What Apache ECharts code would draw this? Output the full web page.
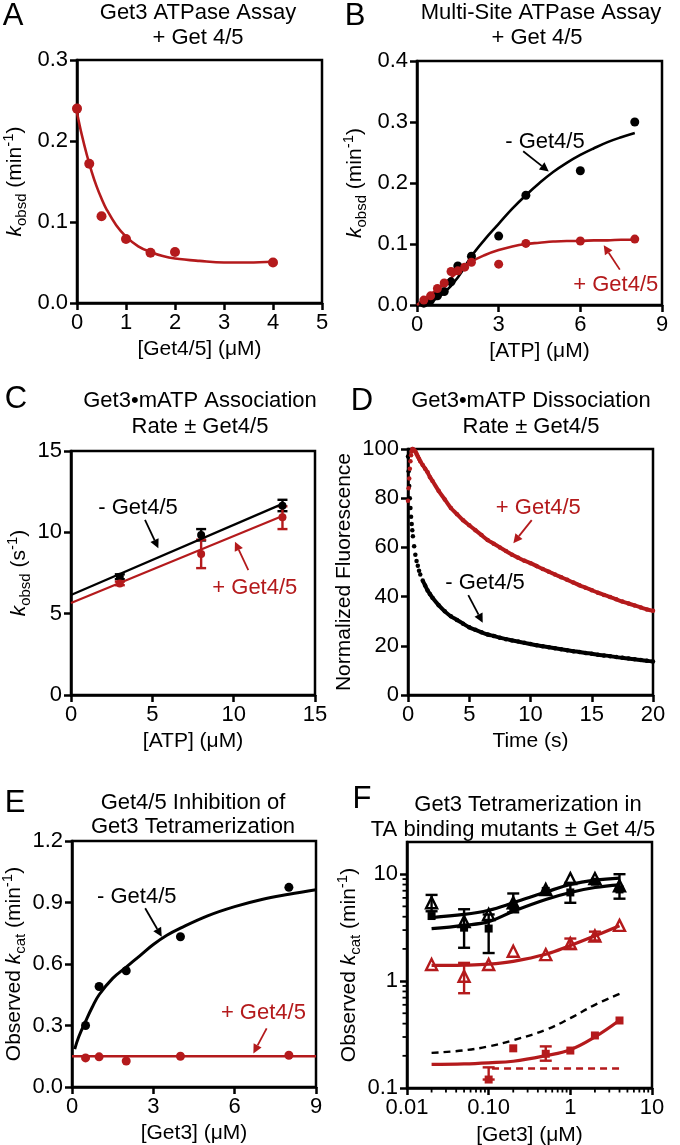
<!DOCTYPE html>
<html><head><meta charset="utf-8">
<script src="https://cdn.jsdelivr.net/npm/echarts@6/dist/echarts.min.js"></script>
<style>html,body{margin:0;padding:0;background:#fff}#c{width:680px;height:1145px}</style>
</head><body><div id="c"></div>
<script>
// ---------- Panel A ----------
const aX = [0, 0.25, 0.5, 1, 1.5, 2, 4];
const aY = [0.240, 0.172, 0.107, 0.079, 0.062, 0.063, 0.050];
const aFitX = [0, 0.1, 0.2, 0.3, 0.4, 0.5, 0.6, 0.8, 1.0, 1.25, 1.5, 1.75, 2.0, 2.5, 3.0, 3.5, 4.0];
const aFitY = [0.235, 0.207, 0.183, 0.162, 0.144, 0.129, 0.116, 0.096, 0.082, 0.070, 0.063, 0.058, 0.055, 0.052, 0.050, 0.050, 0.051];
// ---------- Panel B ----------
const bMinusX = [0.25, 0.5, 0.75, 1, 1.25, 1.5, 2, 3, 4, 6, 8];
const bMinusY = [0.003, 0.008, 0.015, 0.022, 0.038, 0.064, 0.080, 0.113, 0.180, 0.220, 0.300];
const bPlusX = [0.25, 0.5, 0.75, 1, 1.25, 1.5, 1.75, 2, 3, 4, 6, 8];
const bPlusY = [0.008, 0.015, 0.027, 0.036, 0.055, 0.056, 0.062, 0.070, 0.067, 0.101, 0.105, 0.108];
const bFitX = [0, 0.5, 1, 1.5, 2, 2.5, 3, 3.5, 4, 4.5, 5, 5.5, 6, 6.5, 7, 7.5, 8];
const bMinusFit = [0, 0.005, 0.020, 0.045, 0.080, 0.108, 0.133, 0.158, 0.180, 0.200, 0.218, 0.233, 0.246, 0.257, 0.267, 0.275, 0.282];
const bPlusFit = [0, 0.017, 0.035, 0.054, 0.071, 0.082, 0.090, 0.096, 0.100, 0.102, 0.104, 0.105, 0.105, 0.106, 0.106, 0.107, 0.107];
// ---------- Panel C ----------
const cX = [3, 8, 13];
const cMinusY = [7.27, 9.84, 11.64];
const cMinusLo = [7.12, 9.50, 11.30];
const cMinusHi = [7.42, 10.20, 12.00];
const cPlusY = [6.86, 8.67, 10.92];
const cPlusLo = [6.75, 7.80, 10.20];
const cPlusHi = [6.97, 9.55, 11.60];
const cFitX = [0, 13];
const cMinusFit = [6.15, 11.75];
const cPlusFit = [5.65, 11.00];
// ---------- Panel D ----------
const dTime = [0, 0.05, 0.1, 0.15, 0.2, 0.25, 0.3, 0.35, 0.4, 0.5, 0.6, 0.7, 0.8, 0.9, 1.0, 1.2, 1.4, 1.6, 1.8, 2.0,
  2.5, 3, 3.5, 4, 4.5, 5, 5.5, 6, 6.5, 7, 7.5, 8, 8.5, 9, 9.5, 10, 10.5, 11, 11.5, 12, 12.5, 13, 13.5, 14, 14.5, 15,
  15.5, 16, 16.5, 17, 17.5, 18, 18.5, 19, 19.5, 20];
const dMinus = [97, 91, 85, 80, 76, 72.5, 69.5, 67, 64.5, 60.5, 57, 54.5, 52.5, 50.5, 49, 46.5, 44.5, 42.5, 41, 39.5,
  36.5, 34, 32, 30.5, 29, 27.5, 26.5, 25.5, 24.6, 24, 23.3, 22.7, 22.2, 21.7, 21.2, 20.7, 20.2, 19.8, 19.4, 19, 18.6,
  18.2, 17.8, 17.5, 17.1, 16.8, 16.4, 16.1, 15.8, 15.4, 15.1, 14.8, 14.5, 14.2, 13.9, 13.6];
const dPlus = [79, 84, 88, 92, 95, 97.5, 99, 100, 100, 99.5, 99, 98, 97, 96, 95, 93.5, 92, 90.5, 88.5, 87,
  83, 79.5, 76, 73.5, 71, 69, 67, 65, 63, 61.5, 60, 58.5, 57, 55.8, 54.6, 53.6, 52.4, 51.2, 50.1, 49, 47.9,
  46.8, 45.7, 44.6, 43.6, 42.6, 41.6, 40.7, 39.8, 38.9, 38, 37.2, 36.4, 35.6, 34.8, 34.2];
// ---------- Panel E ----------
const eX = [0.5, 1, 2, 4, 8];
const eMinusY = [0.300, 0.490, 0.567, 0.733, 0.974];
const ePlusY = [0.142, 0.147, 0.127, 0.150, 0.155];
const eFitX = [0.1, 0.25, 0.5, 0.75, 1, 1.5, 2, 2.5, 3, 3.5, 4, 5, 6, 7, 8, 9];
const eMinusFit = [0.185, 0.245, 0.320, 0.390, 0.450, 0.530, 0.585, 0.640, 0.695, 0.740, 0.775, 0.835, 0.880, 0.915, 0.940, 0.962];
const ePlusFitX = [0, 9];
const ePlusFit = [0.150, 0.150];
// ---------- Panel F ----------
const fX = [0.02, 0.05, 0.1, 0.2, 0.5, 1, 2, 4];
const fBlackTri = [5.4, 3.6, 4.2, 5.4, 7.2, 9.1, 9.1, 7.8];
const fBlackSq = [4.06, 3.16, 3.10, 4.87, 6.98, 6.75, 8.5, 7.2];
const fRedTri = [1.43, 1.11, 1.43, 1.90, 1.77, 2.25, 2.64, 3.32];
const fRedSqX = [0.1, 0.2, 0.5, 1, 2, 4];
const fRedSq = [0.120, 0.235, 0.209, 0.224, 0.310, 0.428];
const fBlackTriErr = [[0.02, 4.5, 6.4], [0.2, 4.4, 6.6], [4, 5.9, 10.0]];
const fBlackSqErr = [[0.05, 2.05, 4.7], [0.1, 1.83, 4.2], [1, 5.4, 8.3]];
const fRedTriErr = [[0.05, 0.77, 1.48], [1, 2.0, 2.5], [2, 2.4, 2.9]];
const fRedSqErr = [[0.1, 0.120, 0.156], [0.5, 0.18, 0.245]];
const fBlackFitUpper = [3.93, 4.2, 4.6, 5.4, 6.8, 8.0, 8.8, 9.2];
const fBlackFitLower = [3.09, 3.32, 3.6, 4.5, 5.8, 6.75, 7.5, 7.95];
const fRedTriFit = [1.40, 1.41, 1.44, 1.53, 1.78, 2.15, 2.65, 3.30];
const fRedSqFit = [0.166, 0.168, 0.172, 0.178, 0.201, 0.228, 0.300, 0.430];
const fBlackDash = [0.213, 0.225, 0.245, 0.280, 0.350, 0.450, 0.600, 0.760];
const fRedDashX = [0.11, 4];
const fRedDash = [0.152, 0.152];
const fXMinor = [0.02,0.03,0.04,0.05,0.06,0.07,0.08,0.09,0.2,0.3,0.4,0.5,0.6,0.7,0.8,0.9,2,3,4,5,6,7,8,9];
const fYMinor = [0.2,0.3,0.4,0.5,0.6,0.7,0.8,0.9,2,3,4,5,6,7,8,9];
const fXTickLabels = ['0.01', '0.10', '1', '10'];
const fYTickLabels = ['0.1', '1', '10'];

// ---------- annotations (data coordinates) ----------
const notes = [
  // panel, text, x, y, arrow [x1, y1, x2, y2], colour key
  [1, '- Get4/5', 4.7, 0.268, [3.9, 0.252, 4.84, 0.219], 'k'],
  [1, '+ Get4/5', 7.3, 0.033, [7.45, 0.058, 6.86, 0.098], 'r'],
  [2, '- Get4/5', 4.12, 11.5, [4.55, 10.76, 5.37, 9.02], 'k'],
  [2, '+ Get4/5', 11.3, 6.56, [10.9, 7.68, 10.08, 9.42], 'r'],
  [3, '- Get4/5', 6.29, 45.4, [4.92, 40.6, 6.1, 29.4], 'k'],
  [3, '+ Get4/5', 10.64, 75.9, [10.1, 71.1, 8.6, 61.7], 'r'],
  [4, '- Get4/5', 2.39, 0.925, [2.7, 0.872, 3.31, 0.733], 'k'],
  [4, '+ Get4/5', 7.06, 0.36, [7.18, 0.286, 6.69, 0.164], 'r']
];

// ---------- styling ----------
const FONT = "'Liberation Sans', Arial, Helvetica, sans-serif";
const RED = '#b41a1c';
const BLK = '#000000';
const zip = (xs, ys) => xs.map((x, i) => [x, ys[i]]);
const AX = {color: '#000', width: 2.5};

const gridPos = [
  {left: 77, top: 60, width: 245, height: 243},
  {left: 417, top: 61, width: 245, height: 244},
  {left: 71, top: 451, width: 244, height: 244},
  {left: 408, top: 449, width: 245, height: 246},
  {left: 72, top: 841, width: 244, height: 246},
  {left: 407, top: 842, width: 245, height: 246}
];
const grids = gridPos.map(g => Object.assign({show: true, borderColor: '#000', borderWidth: 2.5,
  backgroundColor: 'rgba(0,0,0,0)', containLabel: false, outerBoundsMode: 'none'}, g));

const richName = {
  i: {fontStyle: 'italic', fontSize: 21, lineHeight: 28, fontFamily: FONT, color: '#000'},
  sub: {fontSize: 15, lineHeight: 14, verticalAlign: 'bottom', fontFamily: FONT, color: '#000'},
  sup: {fontSize: 15, lineHeight: 14, verticalAlign: 'top', fontFamily: FONT, color: '#000'}
};

function axis(gi, o) {
  const lab = Object.assign({color: '#000', fontSize: 22, fontFamily: FONT, margin: 9}, o.label || {});
  const a = {
    gridIndex: gi, type: o.type || 'value', min: o.min, max: o.max,
    axisLine: {show: true, onZero: false, lineStyle: AX},
    axisTick: {show: true, inside: false, length: 7, lineStyle: AX},
    splitLine: {show: false}, axisLabel: lab,
    name: o.name, nameLocation: 'middle', nameGap: o.gap,
    nameTextStyle: {color: '#000', fontSize: 21, fontFamily: FONT, lineHeight: 28, rich: richName}
  };
  if (o.interval !== undefined) a.interval = o.interval;
  if (o.logBase) a.logBase = o.logBase;
  return a;
}
const f1 = v => v.toFixed(1);
const logLabel = (arr, offset) => v => {
  const l = Math.log10(v);
  return Math.abs(l - Math.round(l)) < 1e-6 ? (arr[Math.round(l) + offset] || '') : '';
};

const xAxes = [
  axis(0, {min: 0, max: 5, interval: 1, name: '[Get4/5] (μM)', gap: 30}),
  axis(1, {min: 0, max: 9, interval: 3, name: '[ATP] (μM)', gap: 28}),
  axis(2, {min: 0, max: 15, interval: 5, name: '[ATP] (μM)', gap: 30}),
  axis(3, {min: 0, max: 20, interval: 5, name: 'Time (s)', gap: 31}),
  axis(4, {min: 0, max: 9, interval: 3, name: '[Get3] (μM)', gap: 30}),
  axis(5, {type: 'log', logBase: 10, min: 0.01, max: 10, name: '[Get3] (μM)', gap: 33,
    label: {formatter: logLabel(fXTickLabels, 2)}})
];
const yAxes = [
  axis(0, {min: 0, max: 0.3, interval: 0.1, name: '{i|k}{sub|obsd} (min{sup|-1})', gap: 48, label: {formatter: f1}}),
  axis(1, {min: 0, max: 0.4, interval: 0.1, name: '{i|k}{sub|obsd} (min{sup|-1})', gap: 48, label: {formatter: f1}}),
  axis(2, {min: 0, max: 15, interval: 5, name: '{i|k}{sub|obsd} (s{sup|-1})', gap: 38}),
  axis(3, {min: 0, max: 100, interval: 20, name: 'Normalized Fluorescence', gap: 42}),
  axis(4, {min: 0, max: 1.2, interval: 0.3, name: 'Observed {i|k}{sub|cat} (min{sup|-1})', gap: 42, label: {formatter: f1}}),
  axis(5, {type: 'log', logBase: 10, min: 0.1, max: 20, name: 'Observed {i|k}{sub|cat} (min{sup|-1})', gap: 33,
    label: {showMaxLabel: false, formatter: logLabel(fYTickLabels, 1)}})
];

function scatter(i, data, color, size, extra) {
  const base = {type: 'scatter', xAxisIndex: i, yAxisIndex: i, data: data, symbolSize: size,
    itemStyle: {color: color, opacity: 1}, z: 4, silent: true};
  const s = Object.assign(base, extra || {});
  if (extra && extra.itemStyle) s.itemStyle = Object.assign({opacity: 1}, extra.itemStyle);
  return s;
}
function line(i, data, color, width, extra) {
  return Object.assign({type: 'line', xAxisIndex: i, yAxisIndex: i, data: data, showSymbol: false, symbol: 'none',
    lineStyle: {color: color, width: width}, itemStyle: {color: color}, z: 3, silent: true}, extra || {});
}
function errSeries(i, data, color, cap) {
  return {type: 'custom', xAxisIndex: i, yAxisIndex: i, data: data, encode: {x: 0, y: [1, 2]}, z: 3, clip: false, silent: true,
    renderItem: (params, api) => {
      const x = api.value(0), lo = api.value(1), hi = api.value(2);
      const a = api.coord([x, lo]), b = api.coord([x, hi]);
      const st = {stroke: color, lineWidth: 2.4};
      return {type: 'group', children: [
        {type: 'line', shape: {x1: a[0], y1: a[1], x2: b[0], y2: b[1]}, style: st},
        {type: 'line', shape: {x1: a[0] - cap, y1: a[1], x2: a[0] + cap, y2: a[1]}, style: st},
        {type: 'line', shape: {x1: b[0] - cap, y1: b[1], x2: b[0] + cap, y2: b[1]}, style: st}
      ]};
    }};
}
function minorTicks(i, vals, dir) {
  return {type: 'custom', xAxisIndex: i, yAxisIndex: i, clip: false, silent: true, z: 5,
    data: vals.map(v => dir === 'x' ? [v, 0.1] : [0.01, v]),
    encode: {x: 0, y: 1},
    renderItem: (params, api) => {
      const p = api.coord([api.value(0), api.value(1)]);
      const sh = dir === 'x' ? {x1: p[0], y1: p[1], x2: p[0], y2: p[1] + 4.5} : {x1: p[0] - 4.5, y1: p[1], x2: p[0], y2: p[1]};
      return {type: 'line', shape: sh, style: {stroke: '#000', lineWidth: 1.8}};
    }};
}
function noteSeries(n) {
  const color = n[5] === 'r' ? RED : BLK;
  const a = n[4];
  return {type: 'custom', xAxisIndex: n[0], yAxisIndex: n[0], clip: false, silent: true, z: 6,
    data: [[n[2], n[3], a[0], a[1], a[2], a[3]]],
    encode: {x: [0, 2, 4], y: [1, 3, 5]},
    renderItem: (params, api) => {
      const t = api.coord([api.value(0), api.value(1)]);
      const p1 = api.coord([api.value(2), api.value(3)]);
      const p2 = api.coord([api.value(4), api.value(5)]);
      const dx = p2[0] - p1[0], dy = p2[1] - p1[1];
      const L = Math.sqrt(dx * dx + dy * dy), ux = dx / L, uy = dy / L;
      const hl = 9, hw = 4.5;
      const bx = p2[0] - ux * hl, by = p2[1] - uy * hl;
      return {type: 'group', children: [
        {type: 'text', x: t[0], y: t[1], style: {text: n[1], fill: color, fontSize: 22, fontFamily: FONT, align: 'center', verticalAlign: 'middle'}},
        {type: 'line', shape: {x1: p1[0], y1: p1[1], x2: bx, y2: by}, style: {stroke: color, lineWidth: 1.8}},
        {type: 'polygon', shape: {points: [[p2[0], p2[1]], [bx - uy * hw, by + ux * hw], [bx + uy * hw, by - ux * hw]]}, style: {fill: color}}
      ]};
    }};
}

const series = [
  // A
  line(0, zip(aFitX, aFitY), RED, 2.6, {smooth: 0.4}),
  scatter(0, zip(aX, aY), RED, 10),
  // B
  line(1, zip(bFitX, bMinusFit), BLK, 2.6, {smooth: 0.4}),
  line(1, zip(bFitX, bPlusFit), RED, 2.6, {smooth: 0.4}),
  scatter(1, zip(bMinusX, bMinusY), BLK, 9),
  scatter(1, zip(bPlusX, bPlusY), RED, 9),
  // C
  line(2, zip(cFitX, cMinusFit), BLK, 2.2),
  line(2, zip(cFitX, cPlusFit), RED, 2.2),
  errSeries(2, cX.map((x, k) => [x, cMinusLo[k], cMinusHi[k]]), BLK, 5),
  errSeries(2, cX.map((x, k) => [x, cPlusLo[k], cPlusHi[k]]), RED, 5),
  scatter(2, zip(cX, cMinusY), BLK, 8),
  scatter(2, zip(cX, cPlusY), RED, 8),
  // D
  scatter(3, zip(dTime, dMinus), BLK, 4.5),
  line(3, zip(dTime, dMinus).filter(p => p[0] >= 1.2), BLK, 4, {smooth: 0.3}),
  scatter(3, zip(dTime, dPlus), RED, 4.5),
  line(3, zip(dTime, dPlus).filter(p => p[0] >= 0.35), RED, 4, {smooth: 0.3}),
  // E
  line(4, zip(eFitX, eMinusFit), BLK, 3, {smooth: 0.4}),
  line(4, zip(ePlusFitX, ePlusFit), RED, 2.6),
  scatter(4, zip(eX, eMinusY), BLK, 9),
  scatter(4, zip(eX, ePlusY), RED, 9),
  // F
  minorTicks(5, fXMinor, 'x'),
  minorTicks(5, fYMinor, 'y'),
  line(5, zip(fX, fBlackDash), BLK, 2.4, {smooth: 0.4, lineStyle: {color: BLK, width: 2.4, type: [7, 5]}}),
  line(5, zip(fRedDashX, fRedDash), RED, 2.4, {lineStyle: {color: RED, width: 2.4, type: [7, 5]}}),
  line(5, zip(fX, fBlackFitUpper), BLK, 3.2, {smooth: 0.4}),
  line(5, zip(fX, fBlackFitLower), BLK, 3.2, {smooth: 0.4}),
  line(5, zip(fX, fRedTriFit), RED, 3.2, {smooth: 0.4}),
  line(5, zip(fX, fRedSqFit), RED, 3.2, {smooth: 0.4}),
  errSeries(5, fBlackTriErr, BLK, 6),
  errSeries(5, fBlackSqErr, BLK, 6),
  errSeries(5, fRedTriErr, RED, 6),
  errSeries(5, fRedSqErr, RED, 6),
  scatter(5, zip(fX, fBlackSq), BLK, 8, {symbol: 'rect'}),
  scatter(5, zip(fX, fBlackTri), BLK, 11, {symbol: 'triangle', itemStyle: {color: 'rgba(255,255,255,0)', borderColor: BLK, borderWidth: 2.4}}),
  scatter(5, zip(fRedSqX, fRedSq), RED, 8, {symbol: 'rect'}),
  scatter(5, zip(fX, fRedTri), RED, 11, {symbol: 'triangle', itemStyle: {color: 'rgba(255,255,255,0)', borderColor: RED, borderWidth: 2.4}})
].concat(notes.map(noteSeries));

function gtext(x, y, text, size) {
  return {type: 'text', x: x, y: y, silent: true,
    style: {text: text, fontSize: size, fontFamily: FONT, fill: '#000', align: 'center', verticalAlign: 'middle'}};
}
const titles = [
  ['Get3 ATPase Assay', 198, 13], ['+ Get 4/5', 198, 38],
  ['Multi-Site ATPase Assay', 541, 13], ['+ Get 4/5', 537, 38],
  ['Get3•mATP Association', 200, 401], ['Rate ± Get4/5', 200, 427],
  ['Get3•mATP Dissociation', 531, 401], ['Rate ± Get4/5', 531, 427],
  ['Get4/5 Inhibition of', 193, 803], ['Get3 Tetramerization', 193, 827],
  ['Get3 Tetramerization in', 528, 805], ['TA binding mutants ± Get 4/5', 513, 830]
];
const letters = [['A', 13, 16], ['B', 355, 16], ['C', 16, 399], ['D', 362, 401], ['E', 15, 803], ['F', 362, 799]];
const graphic = titles.map(t => gtext(t[1], t[2], t[0], 22)).concat(letters.map(l => gtext(l[1], l[2], l[0], 31)));

const chart = echarts.init(document.getElementById('c'), null, {renderer: 'canvas'});
chart.setOption({
  animation: false,
  backgroundColor: '#fff',
  textStyle: {fontFamily: FONT},
  grid: grids,
  xAxis: xAxes,
  yAxis: yAxes,
  series: series,
  graphic: graphic
});
</script></body></html>
